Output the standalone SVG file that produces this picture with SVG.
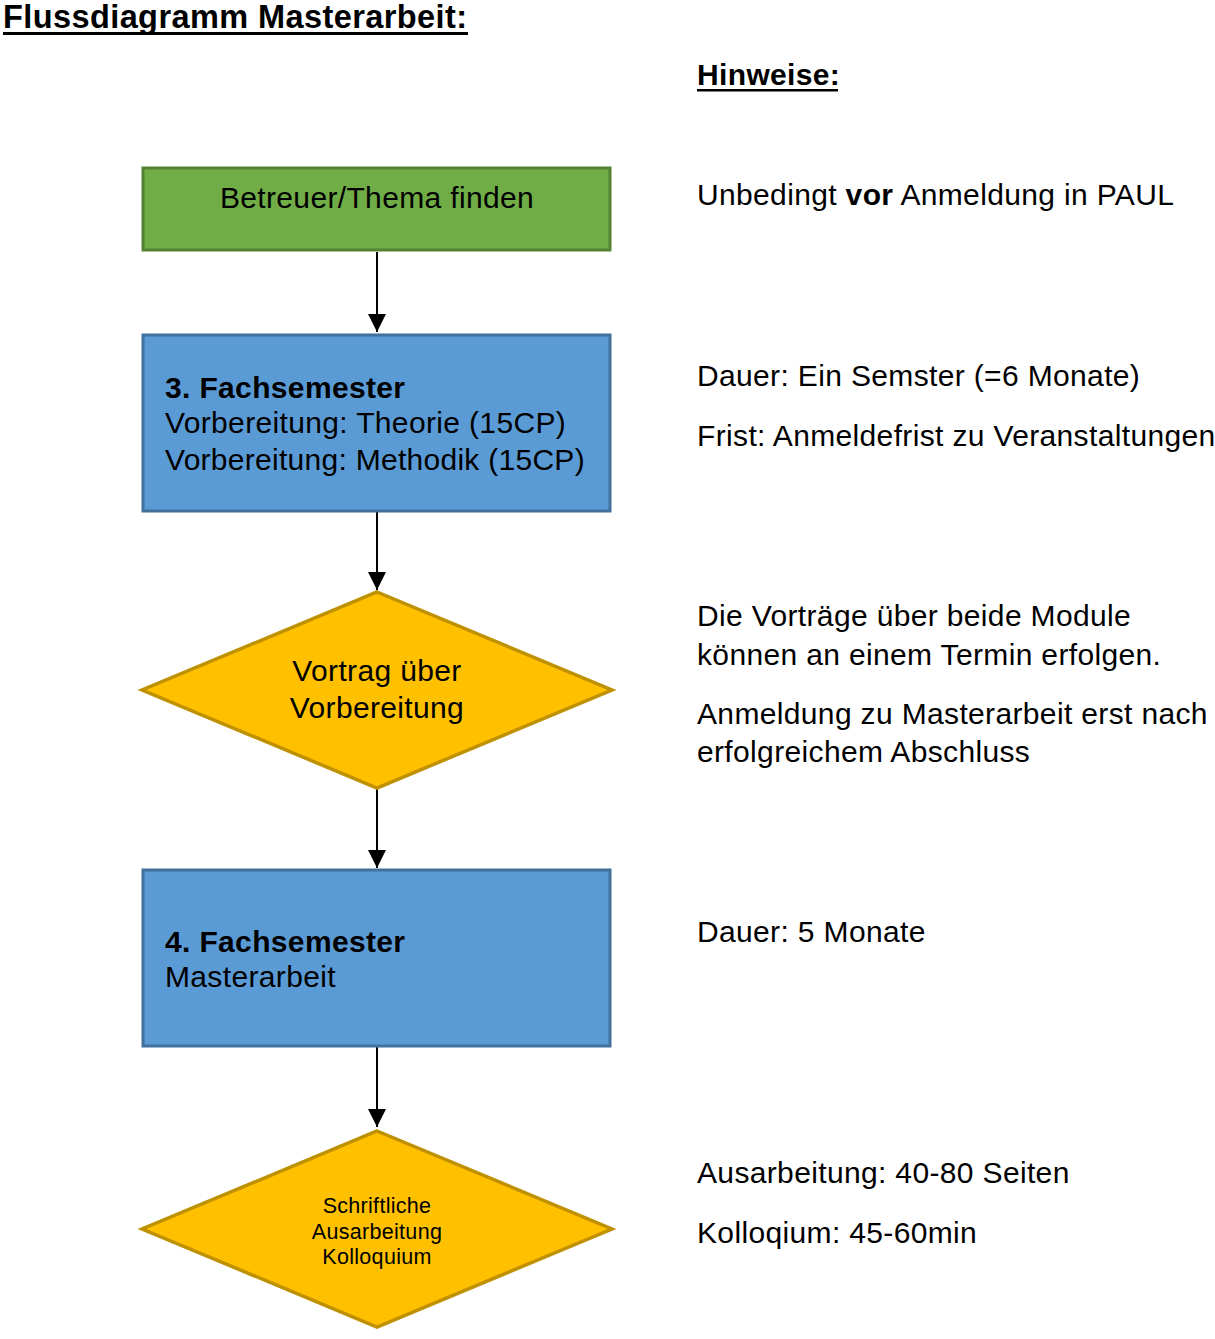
<svg xmlns="http://www.w3.org/2000/svg" width="1215" height="1339" viewBox="0 0 1215 1339">
<style>
text{font-family:"Liberation Sans",Arial,sans-serif;fill:#000}
.t{font-size:30px;letter-spacing:0.35px}
.b{font-weight:bold}
.c{text-anchor:middle}
.s{font-size:21.5px;letter-spacing:0.3px}
.green{fill:#70AD47;stroke:#548235;stroke-width:3}
.blue{fill:#5B9BD5;stroke:#41719C;stroke-width:3}
.gold{fill:#FFC000;stroke:#BF9000;stroke-width:3.5}
.conn{stroke:#000;stroke-width:2;fill:none}
</style>
<defs>
<marker id="arr" markerUnits="userSpaceOnUse" markerWidth="18" markerHeight="18" viewBox="0 0 18 18" refX="18" refY="9" orient="auto">
<path d="M0,0 L18,9 L0,18 Z" fill="#000"/>
</marker>
</defs>
<rect width="1215" height="1339" fill="#fff"/>
<g id="title">
<text x="3" y="28" style="font-size:32.5px" class="b" textLength="464">Flussdiagramm Masterarbeit:</text>
<rect x="3" y="32" width="465" height="3" fill="#000"/>
</g>
<g id="hinweise">
<text x="697" y="85" class="t b">Hinweise:</text>
<rect x="697" y="89" width="141" height="2.5" fill="#000"/>
</g>
<g id="connectors">
<line class="conn" x1="377" y1="252" x2="377" y2="332" marker-end="url(#arr)"/>
<line class="conn" x1="377" y1="512" x2="377" y2="590" marker-end="url(#arr)"/>
<line class="conn" x1="377" y1="789" x2="377" y2="868" marker-end="url(#arr)"/>
<line class="conn" x1="377" y1="1047" x2="377" y2="1127" marker-end="url(#arr)"/>
</g>
<g id="node-betreuer">
<rect class="green" x="143" y="168" width="467" height="82"/>
<text x="377" y="208" class="t c">Betreuer/Thema finden</text>
</g>
<g id="node-sem3">
<rect class="blue" x="143" y="335" width="467" height="176"/>
<text x="165" y="398" class="t b">3. Fachsemester</text>
<text x="165" y="433" class="t">Vorbereitung: Theorie (15CP)</text>
<text x="165" y="470" class="t" textLength="420">Vorbereitung: Methodik (15CP)</text>
</g>
<g id="node-vortrag">
<polygon class="gold" points="377,592 612,690 377,788 142,690"/>
<text x="377" y="681" class="t c">Vortrag über</text>
<text x="377" y="718" class="t c">Vorbereitung</text>
</g>
<g id="node-sem4">
<rect class="blue" x="143" y="870" width="467" height="176"/>
<text x="165" y="952" class="t b">4. Fachsemester</text>
<text x="165" y="987" class="t">Masterarbeit</text>
</g>
<g id="node-ausarbeitung">
<polygon class="gold" points="377,1131 612,1229 377,1327 142,1229"/>
<text x="377" y="1213" class="c s">Schriftliche</text>
<text x="377" y="1239" class="c s">Ausarbeitung</text>
<text x="377" y="1264" class="c s">Kolloquium</text>
</g>
<g id="notes">
<text x="697" y="205" class="t">Unbedingt <tspan class="b">vor</tspan> Anmeldung in PAUL</text>
<text x="697" y="386" class="t">Dauer: Ein Semster (=6 Monate)</text>
<text x="697" y="446" class="t">Frist: Anmeldefrist zu Veranstaltungen</text>
<text x="697" y="626" class="t">Die Vorträge über beide Module</text>
<text x="697" y="665" class="t">können an einem Termin erfolgen.</text>
<text x="697" y="724" class="t">Anmeldung zu Masterarbeit erst nach</text>
<text x="697" y="762" class="t">erfolgreichem Abschluss</text>
<text x="697" y="942" class="t">Dauer: 5 Monate</text>
<text x="697" y="1183" class="t">Ausarbeitung: 40-80 Seiten</text>
<text x="697" y="1243" class="t">Kolloqium: 45-60min</text>
</g>
</svg>
